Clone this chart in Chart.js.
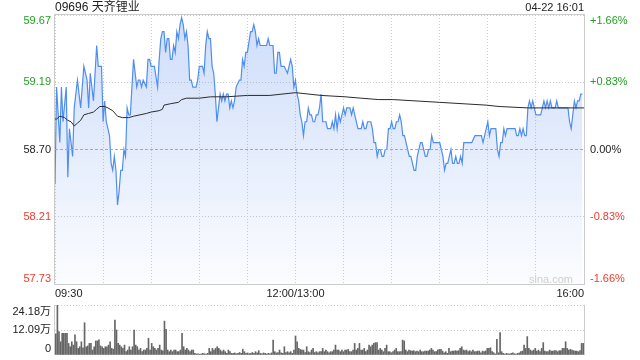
<!DOCTYPE html>
<html><head><meta charset="utf-8">
<script src="https://cdn.jsdelivr.net/npm/chart.js@4.4.1/dist/chart.umd.min.js"></script>
<style>
html,body{margin:0;padding:0;background:#fff;width:640px;height:360px;overflow:hidden}
#main{position:absolute;left:0;top:0}
#vol{position:absolute;left:0;top:300px}
</style></head><body>
<canvas id="main" width="640" height="300"></canvas>
<canvas id="vol" width="640" height="60"></canvas>
<script>
const stockTitle = '09696 天齐锂业';
const stamp = '04-22 16:01';
const watermark = 'sina.com';
const prevClose = 58.70;
const priceTicks = [57.73, 58.215, 58.70, 59.185, 59.67];
const priceLabels = ['57.73', '58.21', '58.70', '59.19', '59.67'];
const pctTicks = [-1.66, -0.83, 0, 0.83, 1.66];
const pctLabels = ['-1.66%', '-0.83%', '0.00%', '+0.83%', '+1.66%'];
const tickColors = ['#f03a2e', '#f03a2e', '#222222', '#22a022', '#22a022'];
const timeTicks = [0, 30, 60, 90, 120, 150, 180, 210, 240, 270, 300, 330];
const timeLabelAt = {0: '09:30', 150: '12:00/13:00', 330: '16:00'};
const volTicks = [0, 12.09, 24.18];
const volLabels = ['0', '12.09万', '24.18万'];

// minutes since 09:30 (lunch break removed) and last price
const minutes = [
0,1,3,4,5,7,8,9,11,12,
14,16,18,20,21,22,24,26,27,29,
30,31,32,33,34,35,36,37,38,39,
40,41,42,43,44,45,46,47,49,51,
52,53,54,55,57,58,59,60,62,64,
65,66,67,68,69,70,71,72,73,74,
75,76,77,78,79,80,81,82,83,84,
85,86,88,89,90,92,93,94,95,96,
97,98,99,100,101,102,103,104,105,106,
107,108,109,110,111,112,113,115,116,117,
118,119,120,122,123,124,125,126,127,128,
130,132,133,134,136,137,138,139,140,141,
142,143,145,146,147,148,149,150,151,152,
153,154,155,156,157,158,159,160,161,162,
163,164,165,166,167,168,169,170,172,173,
174,175,176,177,178,179,180,181,182,183,
184,185,186,187,188,189,191,192,193,194,
195,197,198,199,200,201,202,203,204,205,
206,207,208,209,210,211,212,213,214,215,
216,217,218,219,220,221,222,224,225,226,
228,229,230,231,232,233,234,235,236,238,
240,241,242,243,244,245,246,247,248,249,
250,251,252,253,254,255,256,258,260,262,
263,265,266,267,268,269,270,271,272,274,
275,276,277,278,279,280,281,282,285,287,
288,289,290,291,292,293,294,295,296,297,
298,299,300,302,303,304,305,306,307,308,
309,310,311,312,313,314,316,318,320,321,
322,323,324,325,326,327,328,329];
const prices = [
58.45,59.15,58.75,59.15,58.90,59.15,58.50,58.85,58.65,59.00,
59.20,59.00,59.30,59.20,59.00,59.25,59.05,59.45,59.30,59.30,
58.90,59.05,58.90,58.85,58.80,58.60,58.55,58.65,58.55,58.30,
58.40,58.55,58.55,58.70,58.65,59.00,58.95,58.95,59.35,59.15,
59.20,59.20,59.15,59.20,59.15,59.35,59.35,59.30,59.30,59.15,
59.35,59.50,59.55,59.55,59.40,59.50,59.50,59.35,59.35,59.45,
59.40,59.55,59.50,59.60,59.65,59.60,59.50,59.55,59.45,59.20,
59.20,59.15,59.15,59.20,59.30,59.30,59.25,59.45,59.55,59.50,
59.50,59.30,59.25,59.10,58.90,59.00,59.10,59.05,59.10,59.05,
59.10,59.10,59.00,59.05,59.00,59.05,59.15,59.20,59.20,59.35,
59.30,59.40,59.40,59.55,59.55,59.60,59.55,59.45,59.50,59.45,
59.45,59.45,59.50,59.45,59.45,59.25,59.25,59.40,59.40,59.30,
59.30,59.30,59.25,59.30,59.35,59.30,59.15,59.20,59.10,59.05,
58.95,58.90,58.80,58.90,58.90,59.00,58.95,58.95,58.90,58.90,
58.95,58.95,59.00,59.10,58.90,58.90,58.90,58.85,58.85,58.90,
58.85,58.95,58.85,58.95,58.90,58.95,59.00,58.95,59.00,59.00,
59.00,58.95,59.00,58.95,58.90,58.85,58.85,58.90,58.85,58.85,
58.90,58.90,58.85,58.75,58.75,58.65,58.70,58.70,58.65,58.65,
58.70,58.70,58.85,58.85,58.90,58.85,58.85,58.90,58.90,58.95,
58.90,58.80,58.80,58.75,58.70,58.65,58.65,58.55,58.55,58.65,
58.75,58.75,58.70,58.65,58.65,58.70,58.70,58.80,58.75,58.75,
58.75,58.70,58.65,58.55,58.60,58.60,58.65,58.70,58.60,58.60,
58.65,58.60,58.60,58.65,58.60,58.75,58.75,58.75,58.75,58.80,
58.80,58.80,58.80,58.75,58.80,58.85,58.90,58.80,58.85,58.85,
58.85,58.70,58.65,58.75,58.75,58.85,58.80,58.85,58.85,58.85,
58.80,58.80,58.85,58.80,58.85,58.80,58.80,59.00,59.05,59.00,
59.05,59.00,58.95,58.95,58.95,59.00,59.05,59.00,59.05,59.00,
59.05,59.00,59.00,59.00,59.05,59.00,59.00,59.00,59.00,58.90,
58.85,58.95,59.05,59.00,59.05,59.05,59.10,59.10];

// average price line
const avgMinutes = [0,1,3,6,8,10,12,14,16,18,21,24,26,28,31,33,36,39,42,46,49,53,57,60,65,67,68,72,77,79,82,90,97,107,120,134,150,166,181,191,202,211,240,269,277,295,330];
const avgValues = [58.92,58.92,58.94,58.93,58.91,58.90,58.87,58.89,58.91,58.95,58.96,58.97,58.99,59.01,59.01,59.00,58.98,58.94,58.93,58.93,58.94,58.95,58.96,58.97,58.98,58.99,59.02,59.03,59.04,59.06,59.07,59.07,59.08,59.08,59.09,59.09,59.11,59.09,59.08,59.07,59.06,59.06,59.04,59.02,59.01,59.00,59.00];

// volume per minute (万股)
const volume = [
10.2,24.2,11.3,6.4,10.5,10.5,10.5,10.5,5.6,4.0,6.4,4.8,9.7,6.4,3.2,4.0,6.4,3.5,15.6,4.0,
4.4,5.6,5.6,2.4,4.0,6.8,6.8,7.3,4.4,4.0,3.2,4.0,4.0,4.8,6.4,3.2,2.8,16.9,12.1,5.6,
4.8,4.0,3.2,4.8,1.6,2.4,4.0,2.4,4.0,12.1,4.8,4.0,2.4,3.2,1.6,2.4,2.4,3.2,8.1,2.4,
5.6,4.0,3.2,2.4,3.2,4.8,2.4,2.0,16.4,12.4,2.4,1.6,2.4,1.6,2.4,2.4,1.6,1.6,2.4,10.5,
4.0,2.4,3.2,2.4,1.6,2.4,2.4,0.8,0.5,0.6,0.4,0.5,0.8,0.6,0.5,0.8,
3.2,1.6,3.2,2.4,3.2,4.0,3.2,2.4,1.6,2.4,1.6,0.8,2.4,1.6,0.8,
0.8,1.0,0.6,0.8,1.2,0.8,2.8,1.6,0.8,1.0,0.6,0.8,1.2,0.8,1.6,1.0,2.1,0.8,0.6,1.0,0.8,0.5,0.8,0.6,1.0,
7.2,1.6,
1.0,1.2,2.4,1.0,0.8,4.0,1.2,1.6,1.0,1.6,0.8,2.4,
9.2,6.4,3.2,2.7,2.4,2.4,1.2,4.0,1.6,1.2,2.4,3.2,1.2,1.6,1.0,1.6,
1.6,3.2,1.6,2.4,1.6,1.1,1.6,1.6,2.4,4.8,2.4,2.4,1.6,2.4,1.6,2.4,2.4,2.7,1.6,1.6,
2.4,5.6,2.4,3.2,5.6,2.4,2.4,3.2,1.6,2.4,4.8,4.0,4.8,5.6,6.0,6.0,2.4,3.2,2.4,1.6,
3.2,4.8,1.6,1.6,1.1,1.6,2.4,3.2,1.6,1.6,1.6,
7.2,6.8,
2.4,1.6,2.4,2.1,1.9,2.1,1.6,1.9,1.6,2.4,1.6,1.6,1.9,1.9,1.9,2.4,3.2,2.4,1.6,1.6,2.4,2.7,
2.7,1.9,1.1,1.6,0.8,3.2,1.6,1.9,1.9,2.1,1.9,2.1,3.2,4.0,2.4,2.1,2.4,1.6,2.1,1.6,
2.4,1.6,1.6,1.9,1.9,1.1,1.9,1.6,2.0,3.2,3.2,3.5,1.6,1.1,0.5,
7.6,1.1,10.8,1.6,
0.8,0.5,0.8,0.6,0.5,0.8,1.1,0.6,0.5,0.8,1.0,
1.6,1.9,4.8,3.2,8.9,
3.2,2.4,1.9,2.4,3.2,1.9,2.4,1.6,3.2,
6.0,
1.9,1.6,1.6,2.4,1.9,1.9,2.1,2.1,1.6,2.1,2.1,3.2,3.2,
6.4,
3.2,2.4,2.7,2.4,2.1,1.9,1.9,1.6,2.1,
5.6,5.6];

const FAM = "'Liberation Sans', Arial, 'Noto Sans CJK SC', sans-serif";
const GRID = '#cdcdcd';
const FRAME = '#cccccc';

const mainDecor = {
  id: 'mainDecor',
  afterDatasetsDraw(chart) {
    const {ctx, chartArea: a, scales} = chart;
    const y = Math.round(scales.y.getPixelForValue(prevClose)) + 0.5;
    ctx.save();
    ctx.strokeStyle = '#a8a8a8';
    ctx.lineWidth = 1;
    ctx.setLineDash([3, 2]);
    ctx.beginPath(); ctx.moveTo(a.left, y); ctx.lineTo(a.right, y); ctx.stroke();
    ctx.restore();
  },
  afterDraw(chart) {
    const {ctx, chartArea: a} = chart;
    ctx.save();
    ctx.strokeStyle = FRAME; ctx.lineWidth = 1; ctx.setLineDash([]);
    ctx.strokeRect(Math.round(a.left) - 0.5, Math.round(a.top) - 0.5, Math.round(a.right - a.left) + 1, Math.round(a.bottom - a.top) + 1);
    ctx.fillStyle = '#222'; ctx.textBaseline = 'middle';
    ctx.font = '12px ' + FAM; ctx.textAlign = 'left';
    ctx.fillText(stockTitle, a.left, 7.5);
    ctx.font = '11px ' + FAM; ctx.textAlign = 'right';
    ctx.fillText(stamp, a.right, 8);
    ctx.fillStyle = '#cfcfcf'; ctx.textBaseline = 'alphabetic';
    ctx.fillText(watermark, a.right - 11, a.bottom - 1);
    ctx.restore();
  }
};

const fit = (w, h) => s => {
  if (w !== null) s.width = w;
  if (h !== null) s.height = h;
  s.paddingTop = 0; s.paddingBottom = 0; s.paddingLeft = 0; s.paddingRight = 0;
};

new Chart(document.getElementById('main'), {
  type: 'line',
  data: {
    datasets: [
      {
        data: avgMinutes.map((m, i) => ({x: m, y: avgValues[i]})),
        borderColor: '#2b2b2b', borderWidth: 1, pointRadius: 0, fill: false, tension: 0
      },
      {
        data: minutes.map((m, i) => ({x: m, y: prices[i]})),
        borderColor: '#4f8ef0', borderWidth: 1.2, pointRadius: 0, tension: 0,
        fill: 'start',
        backgroundColor: c => {
          const a = c.chart.chartArea;
          if (!a) return 'rgba(60,120,235,0.15)';
          const g = c.chart.ctx.createLinearGradient(0, a.top, 0, a.bottom);
          g.addColorStop(0, 'rgba(60,120,235,0.25)');
          g.addColorStop(1, 'rgba(60,120,235,0.02)');
          return g;
        }
      }
    ]
  },
  options: {
    responsive: false, animation: false, devicePixelRatio: 1,
    layout: {padding: {top: 15, left: 0, right: 0, bottom: 0}},
    plugins: {legend: {display: false}, tooltip: {enabled: false}},
    scales: {
      x: {
        type: 'linear', min: 0, max: 330,
        afterBuildTicks: s => { s.ticks = timeTicks.map(v => ({value: v})); },
        afterFit: fit(null, 16),
        grid: {color: GRID, drawTicks: false, lineWidth: 1},
        border: {display: false, dash: [1, 2]},
        ticks: {
          autoSkip: false, maxRotation: 0, minRotation: 0, align: 'inner', padding: 3,
          color: '#222', font: {family: FAM, size: 11},
          callback: v => timeLabelAt[v] || ''
        }
      },
      y: {
        type: 'linear', position: 'left', min: priceTicks[0], max: priceTicks[4],
        afterBuildTicks: s => { s.ticks = priceTicks.map(v => ({value: v})); },
        afterFit: fit(55, null),
        grid: {color: c => (c.tick && c.tick.value === prevClose) ? 'rgba(0,0,0,0)' : GRID, drawTicks: false},
        border: {display: false, dash: [1, 2]},
        ticks: {
          autoSkip: false, padding: 4, font: {family: FAM, size: 11, lineHeight: '11px'},
          color: c => tickColors[c.index],
          callback: (v, i) => i === 4 ? ['', priceLabels[i]] : (i === 0 ? [priceLabels[i], ''] : priceLabels[i])
        }
      },
      yPct: {
        type: 'linear', position: 'right', min: pctTicks[0], max: pctTicks[4],
        afterBuildTicks: s => { s.ticks = pctTicks.map(v => ({value: v})); },
        afterFit: fit(56, null),
        grid: {display: false, drawTicks: false},
        border: {display: false},
        ticks: {
          autoSkip: false, padding: 6, font: {family: FAM, size: 11, lineHeight: '11px'},
          color: c => tickColors[c.index],
          callback: (v, i) => i === 4 ? ['', pctLabels[i]] : (i === 0 ? [pctLabels[i], ''] : pctLabels[i])
        }
      }
    }
  },
  plugins: [mainDecor]
});

const volDecor = {
  id: 'volDecor',
  afterDraw(chart) {
    const {ctx, chartArea: a} = chart;
    ctx.save();
    ctx.strokeStyle = FRAME; ctx.lineWidth = 1; ctx.setLineDash([]);
    const l = Math.round(a.left) - 0.5, r = Math.round(a.right) + 0.5;
    ctx.beginPath();
    ctx.moveTo(l, a.top); ctx.lineTo(l, a.bottom);
    ctx.moveTo(r, a.top); ctx.lineTo(r, a.bottom);
    ctx.stroke();
    ctx.restore();
  }
};

new Chart(document.getElementById('vol'), {
  type: 'bar',
  data: {
    datasets: [{
      data: volume.map((v, i) => ({x: i, y: v})),
      backgroundColor: '#666666', borderWidth: 0, barThickness: 1
    }]
  },
  options: {
    responsive: false, animation: false, devicePixelRatio: 1,
    layout: {padding: {top: 5, bottom: 5, left: 0, right: 56}},
    plugins: {legend: {display: false}, tooltip: {enabled: false}},
    scales: {
      x: {type: 'linear', min: -0.5, max: 330.5, display: false, offset: false},
      y: {
        type: 'linear', min: 0, max: volTicks[2],
        afterBuildTicks: s => { s.ticks = volTicks.map(v => ({value: v})); },
        afterFit: fit(55, null),
        grid: {color: c => (c.tick && c.tick.value === 0) ? 'rgba(0,0,0,0)' : GRID, drawTicks: false},
        border: {display: false, dash: [1, 2]},
        ticks: {
          autoSkip: false, padding: 4, color: '#222', font: {family: FAM, size: 11, lineHeight: '13px'},
          callback: (v, i) => i === 2 ? ['', volLabels[i]] : (i === 0 ? [volLabels[i], ''] : volLabels[i])
        }
      }
    }
  },
  plugins: [volDecor]
});
</script>
</body></html>
